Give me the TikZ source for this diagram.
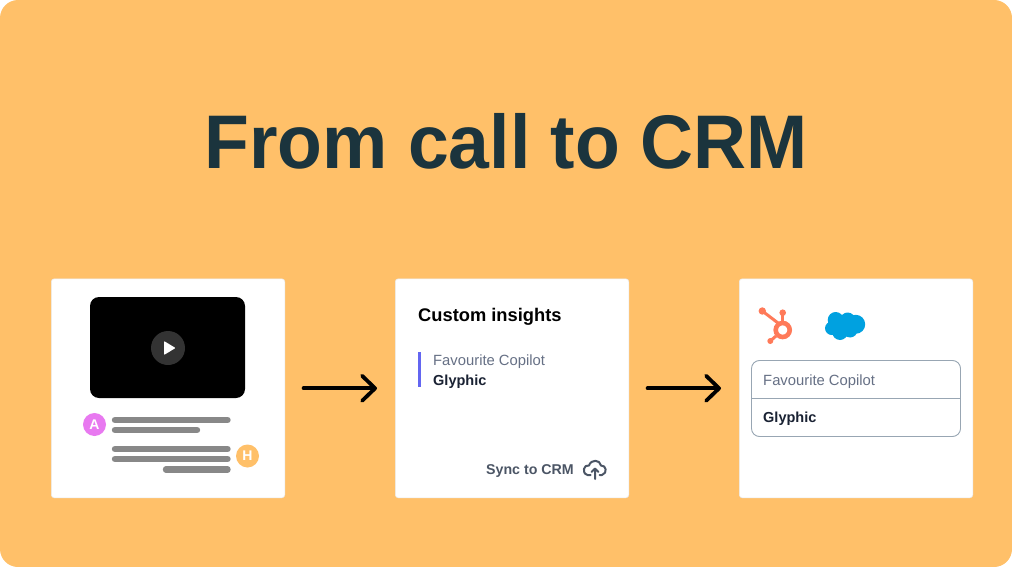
\documentclass[tikz,border=0pt]{standalone}
\usepackage{fontspec}
\setmainfont{Liberation Sans}
\newfontfamily\titlefont[FakeStretch=.965]{Liberation Sans}
\usetikzlibrary{arrows.meta}
\definecolor{bgor}{HTML}{FFC069}
\definecolor{titlec}{HTML}{1B343D}
\definecolor{bargray}{HTML}{888888}
\definecolor{labgray}{HTML}{667085}
\definecolor{dark}{HTML}{1A2233}
\definecolor{syncc}{HTML}{4B5565}
\definecolor{bordc}{HTML}{98A6B3}
\definecolor{hub}{HTML}{FF7A59}
\definecolor{sf}{HTML}{00A1E0}
\definecolor{pink}{HTML}{E879F0}
\definecolor{indigoc}{HTML}{6366F1}
\tikzset{
 x=1pt,y=-1pt,
 card/.style={draw=black!8,line width=.6pt,fill=white,rounded corners=3pt,minimum width=233.5pt,minimum height=219pt,inner sep=0pt,anchor=north west},
 arr/.style={line width=3.8pt,line cap=round,shorten <=18.5pt,shorten >=18pt,-{Straight Barb[round,length=13pt,width=25pt,line width=3.8pt]}},
 bar/.style={line width=6.4pt,line cap=round,bargray},
 avatar/.style={circle,minimum size=23pt,inner sep=0pt,text=white,font=\bfseries\fontsize{14}{14}\selectfont},
 lbl/.style={anchor=base west,inner sep=0pt},
 title/.style={lbl,anchor=base,text=titlec,font=\titlefont\bfseries\fontsize{76}{76}\selectfont},
 regular/.style={lbl,text=labgray,font=\fontsize{14.8}{15}\selectfont},
 strong/.style={lbl,text=dark,font=\bfseries\fontsize{14.5}{15}\selectfont},
 icon/.style={syncc,line width=2pt,line cap=round,line join=round},
}
\begin{document}
\begin{tikzpicture}
\useasboundingbox (0,0) rectangle (1012,567);
\fill[bgor] (0,0) [rounded corners=18pt] rectangle (1012,567);
\node[title] (ttl) at (506,168) {From call to CRM};
\node[card] (c1) at (51,278.5) {};
\node[card] (c2) at (395,278.5) {};
\node[card] (c3) at (739,278.5) {};
\draw[arr] (c1) -- (c2);
\draw[arr] (c2) -- (c3);
% video
\fill[black,rounded corners=9pt] (90,297) rectangle (245,398);
\fill[black!80] (168,348) circle (17pt);
\fill[white,rounded corners=.8pt] (164,341) -- (175.5,348) -- (164,355) -- cycle;
\node[avatar,fill=pink] (a) at (94.5,424.5) {A};
\node[avatar,fill=bgor] (h) at (247.5,456) {H};
\draw[bar] (115,420) -- (227.5,420);
\draw[bar] (115,430) -- (197,430);
\draw[bar] (115,449) -- (227.5,449);
\draw[bar] (115,459) -- (227.5,459);
\draw[bar] (166,469.5) -- (227.5,469.5);
% card 2
\node[lbl,text=black,font=\bfseries\fontsize{18.3}{18}\selectfont] (ci) at (418,321) {Custom insights};
\draw[indigoc,line width=3pt] (419.5,352) -- (419.5,387);
\node[regular] (f1) at (433,365) {Favourite Copilot};
\node[strong] (g1) at (433,385) {Glyphic};
\node[lbl,text=syncc,font=\bfseries\fontsize{14.2}{15}\selectfont] (sync) at (486,474) {Sync to CRM};
\draw[icon]
 (590.5,475) -- (587.5,475) .. controls (581,473) and (584,464) .. (589,465.5)
 .. controls (591,459) and (600,459.5) .. (601,465.5)
 .. controls (606,465) and (608,473) .. (602,475) -- (599.5,475);
\draw[icon] (595,479) -- (595,469) (591.5,472) -- (595,468.5) -- (598.5,472);
% card 3
\draw[hub,line width=4.6pt] (782.7,330) circle (7pt);
\draw[hub,line width=3pt] (762.3,311) -- (778,323);
\fill[hub] (762.3,311) circle (3.7pt);
\draw[hub,line width=3pt] (782.7,312.7) -- (782.7,322);
\fill[hub] (782.7,312.7) circle (3.3pt);
\draw[hub,line width=3pt] (770.3,341) -- (776,336);
\fill[hub] (770.3,341) circle (3pt);
\fill[sf] (835.7,320) circle (8pt) (847.7,320) circle (7.5pt) (855.7,324.3) circle (9.5pt)
 (831.7,328.3) circle (6.7pt) (840,332.3) circle (7.7pt) (850,330) circle (7.5pt) (843,326) circle (8pt);
\draw[bordc,line width=.9pt,rounded corners=8pt] (751.5,360.5) rectangle (960.5,436.5);
\draw[bordc,line width=.9pt] (751.5,398.5) -- (960.5,398.5);
\node[regular] (f2) at (763,385) {Favourite Copilot};
\node[strong] (g2) at (763,422) {Glyphic};
\end{tikzpicture}
\end{document}
